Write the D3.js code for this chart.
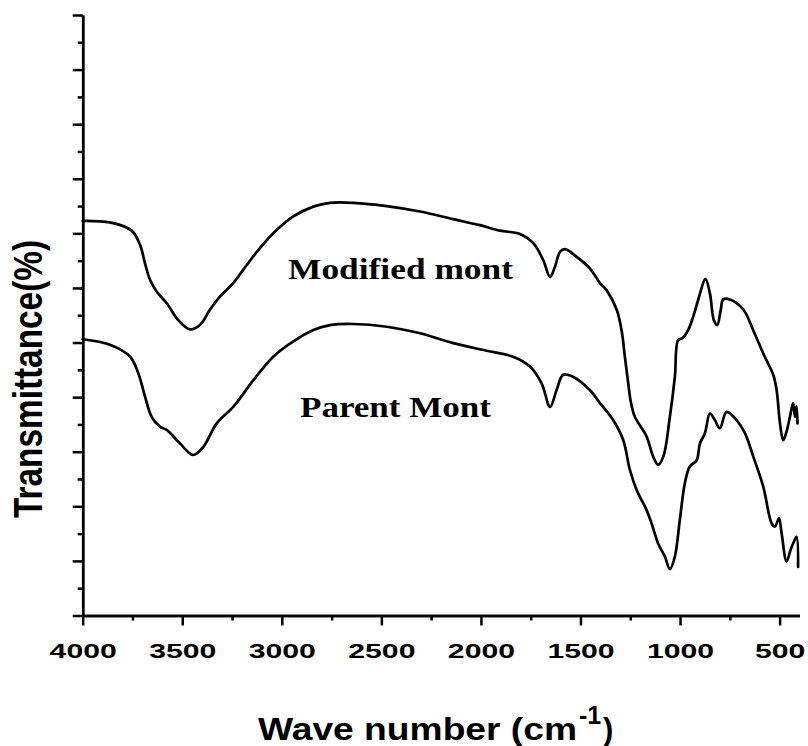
<!DOCTYPE html>
<html>
<head>
<meta charset="utf-8">
<script src="https://cdn.jsdelivr.net/npm/d3@7/dist/d3.min.js"></script>
<style>
  html, body { margin: 0; padding: 0; background: #fff; }
  svg { display: block; }
</style>
</head>
<body>
<svg id="chart" width="808" height="746"></svg>
<script>
// FTIR spectra: wavenumber (cm-1) and transmittance (arbitrary %, offset curves)
const modifiedWn = [4000, 3863, 3754, 3712, 3687, 3662, 3628, 3578, 3520, 3461, 3411, 3361, 3311, 3244, 3176, 3110, 3026, 2942, 2842, 2758, 2641, 2473, 2306, 2139, 2005, 1905, 1804, 1737, 1687, 1653, 1628, 1603, 1578, 1519, 1453, 1402, 1369, 1318, 1293, 1277, 1260, 1247, 1227, 1168, 1135, 1110, 1084, 1051, 1026, 1009, 987, 959, 934, 909, 872, 850, 830, 813, 796, 783, 750, 683, 633, 582, 532, 515, 498, 482, 465, 448, 432, 423, 415, 410];
const modifiedT = [72.3, 72.0, 70.5, 67.9, 64.5, 61.5, 59.3, 57.2, 54.1, 52.4, 53.2, 56.0, 58.4, 60.9, 64.2, 67.3, 70.6, 73.1, 74.9, 75.6, 75.6, 75.0, 74.0, 72.6, 71.5, 70.5, 69.9, 68.2, 65.1, 62.0, 63.9, 66.6, 67.1, 65.7, 63.6, 60.9, 59.6, 56.0, 52.1, 47.4, 42.5, 39.1, 36.4, 32.8, 29.1, 27.6, 29.1, 36.4, 43.7, 50.5, 50.8, 52.3, 54.7, 57.8, 61.6, 59.0, 54.1, 53.2, 55.9, 57.9, 57.9, 56.1, 52.3, 48.0, 44.1, 41.3, 35.2, 32.1, 33.7, 36.4, 38.9, 36.4, 38.3, 35.2];

const parentWn = [4000, 3863, 3762, 3721, 3687, 3654, 3612, 3578, 3511, 3445, 3394, 3327, 3244, 3143, 3043, 2942, 2842, 2758, 2641, 2473, 2306, 2139, 1971, 1838, 1754, 1695, 1653, 1620, 1587, 1536, 1453, 1402, 1336, 1285, 1252, 1218, 1168, 1143, 1110, 1076, 1051, 1026, 1001, 976, 951, 917, 900, 875, 850, 825, 800, 766, 716, 674, 632, 582, 540, 523, 503, 490, 465, 445, 432, 415, 407];
const parentT = [50.6, 49.6, 47.4, 44.4, 40.1, 36.4, 34.6, 34.0, 31.5, 29.4, 30.9, 35.2, 38.2, 43.1, 47.4, 50.2, 52.3, 53.2, 53.4, 52.9, 51.7, 49.9, 48.5, 47.4, 45.6, 42.5, 38.2, 41.3, 44.1, 43.7, 41.3, 38.9, 35.8, 32.1, 26.7, 23.0, 19.3, 16.9, 13.2, 10.8, 8.5, 10.8, 17.5, 24.2, 27.3, 28.4, 31.5, 33.4, 37.0, 35.8, 34.3, 37.3, 35.8, 33.4, 29.1, 23.6, 16.9, 16.3, 17.8, 15.1, 9.9, 12.0, 13.2, 14.4, 8.9];

const xMajorTicks = [4000, 3500, 3000, 2500, 2000, 1500, 1000, 500];
const xMinorTicks = [3750, 3250, 2750, 2250, 1750, 1250, 750];
const yMajorTicks = [0, 10, 20, 30, 40, 50, 60, 70, 80, 90, 100, 110];
const yMinorTicks = [5, 15, 25, 35, 45, 55, 65, 75, 85, 95, 105];

const seriesLabels = [
  { text: "Modified mont", x: 288, y: 279, len: 225 },
  { text: "Parent Mont", x: 300, y: 417, len: 191 }
];

const svg = d3.select("#chart");
const x = d3.scaleLinear().domain([4000, 400]).range([82.7, 799.5]);
const y = d3.scaleLinear().domain([0, 110]).range([615.5, 15]);

const AXIS_W = 2.5;

function styleAxis(g) {
  g.select(".domain").attr("stroke", "#000").attr("stroke-width", AXIS_W);
  g.selectAll(".tick line").attr("stroke", "#000").attr("stroke-width", AXIS_W);
}

// bottom axis: minor ticks, then major ticks with labels
svg.append("g")
  .attr("transform", `translate(0,${y(0)})`)
  .call(d3.axisBottom(x).tickValues(xMinorTicks).tickSize(5).tickSizeOuter(0).tickFormat(""))
  .call(styleAxis);

const xg = svg.append("g")
  .attr("transform", `translate(0,${y(0)})`)
  .call(d3.axisBottom(x).tickValues(xMajorTicks).tickSize(10).tickSizeOuter(0).tickFormat(d3.format("d")))
  .call(styleAxis);

xg.selectAll(".tick text")
  .attr("y", 42.5)
  .attr("dy", null)
  .attr("fill", "#000")
  .attr("font-family", "'Liberation Sans', Arial, sans-serif")
  .attr("font-weight", "bold")
  .attr("font-size", 21)
  .attr("text-anchor", "middle")
  .attr("textLength", d => String(d).length * 16.8)
  .attr("lengthAdjust", "spacingAndGlyphs");

// left axis: unlabeled ticks
svg.append("g")
  .attr("transform", `translate(${x(4000)},0)`)
  .call(d3.axisLeft(y).tickValues(yMinorTicks).tickSize(5).tickSizeOuter(0).tickFormat(""))
  .call(styleAxis);

svg.append("g")
  .attr("transform", `translate(${x(4000)},0)`)
  .call(d3.axisLeft(y).tickValues(yMajorTicks).tickSize(10).tickSizeOuter(0).tickFormat(""))
  .call(styleAxis);

// spectra
const line = d3.line()
  .x(d => x(d[0]))
  .y(d => y(d[1]))
  .curve(d3.curveCatmullRom.alpha(0.5));

const series = [
  d3.zip(modifiedWn, modifiedT),
  d3.zip(parentWn, parentT)
];

svg.append("g").selectAll("path")
  .data(series)
  .join("path")
  .attr("d", line)
  .attr("fill", "none")
  .attr("stroke", "#000")
  .attr("stroke-width", 2.7)
  .attr("stroke-linejoin", "round")
  .attr("stroke-linecap", "round");

// curve labels
svg.append("g").selectAll("text")
  .data(seriesLabels)
  .join("text")
  .attr("x", d => d.x)
  .attr("y", d => d.y)
  .attr("font-family", "'Liberation Serif', 'Times New Roman', serif")
  .attr("font-weight", "bold")
  .attr("font-size", 29)
  .attr("textLength", d => d.len)
  .attr("lengthAdjust", "spacingAndGlyphs")
  .text(d => d.text);

// axis titles
const xTitle = svg.append("text")
  .attr("font-family", "'Liberation Sans', Arial, sans-serif")
  .attr("font-weight", "bold")
  .attr("fill", "#000");
xTitle.append("tspan")
  .attr("x", 258).attr("y", 740)
  .attr("font-size", 31)
  .attr("textLength", 319)
  .attr("lengthAdjust", "spacingAndGlyphs")
  .text("Wave number (cm");
xTitle.append("tspan")
  .attr("x", 579).attr("y", 724)
  .attr("font-size", 25)
  .text("-1");
xTitle.append("tspan")
  .attr("x", 603).attr("y", 740)
  .attr("font-size", 31)
  .text(")");

svg.append("text")
  .attr("transform", "translate(42,379) rotate(-90)")
  .attr("text-anchor", "middle")
  .attr("font-family", "'Liberation Sans', Arial, sans-serif")
  .attr("font-weight", "bold")
  .attr("font-size", 40)
  .attr("textLength", 278)
  .attr("lengthAdjust", "spacingAndGlyphs")
  .text("Transmittance(%)");
</script>
</body>
</html>
